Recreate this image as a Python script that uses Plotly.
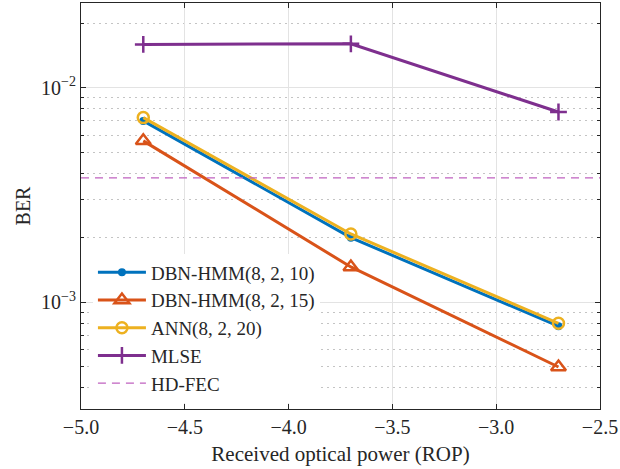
import math
import plotly.graph_objects as go

rop = [-4.7, -3.7, -2.7]
dbn10 = [0.0070, 0.00200, 0.000773]
dbn15 = [0.00565, 0.00146, 0.000499]
ann20 = [0.00725, 0.00208, 0.000798]
mlse = [0.0159, 0.0160, 0.0077]
hd_fec = 0.0038
x_range = [-5.0, -2.5]
y_range = [3.18e-4, 0.0248]
x_ticks = [-5.0, -4.5, -4.0, -3.5, -3.0, -2.5]
x_ticktext = ["\u22125.0", "\u22124.5", "\u22124.0", "\u22123.5", "\u22123.0", "\u22122.5"]
y_ticks = [1e-3, 1e-2]
y_ticktext = ["10<sup>\u22123</sup>", "10<sup>\u22122</sup>"]
y_minor = [m * 10 ** e for e in (-4, -3, -2) for m in range(2, 10)]

font = "Liberation Serif"
fig = go.Figure()
fig.add_trace(go.Scatter(x=rop, y=dbn10, name="DBN-HMM(8, 2, 10)", mode="lines+markers",
                         line=dict(color="#0072BD", width=3),
                         marker=dict(symbol="circle", size=8, color="#0072BD")))
fig.add_trace(go.Scatter(x=rop, y=dbn15, name="DBN-HMM(8, 2, 15)", mode="lines+markers",
                         line=dict(color="#D95319", width=3),
                         marker=dict(symbol="triangle-up-open", size=13, color="#D95319",
                                     line=dict(width=2.5, color="#D95319"))))
fig.add_trace(go.Scatter(x=rop, y=ann20, name="ANN(8, 2, 20)", mode="lines+markers",
                         line=dict(color="#EDB120", width=3),
                         marker=dict(symbol="circle-open", size=11, color="#EDB120",
                                     line=dict(width=2.5, color="#EDB120"))))
fig.add_trace(go.Scatter(x=rop, y=mlse, name="MLSE", mode="lines+markers",
                         line=dict(color="#7E2F8E", width=3),
                         marker=dict(symbol="cross-thin", size=12,
                                     line=dict(width=2.5, color="#7E2F8E"))))
fig.add_trace(go.Scatter(x=x_range, y=[hd_fec, hd_fec], name="HD-FEC", mode="lines",
                         line=dict(color="#C062C0", width=1.2, dash="8px,6px")))

fig.update_layout(
    width=620, height=469,
    margin=dict(l=81, r=17, t=2, b=60),
    paper_bgcolor="white", plot_bgcolor="white",
    font=dict(family=font, size=20, color="#262626"),
    showlegend=True,
    legend=dict(x=0.023, y=0.383, xanchor="left", yanchor="top",
                bgcolor="white", borderwidth=0,
                font=dict(family=font, size=19, color="#262626"),
                itemwidth=48, tracegroupgap=0),
)
fig.update_xaxes(
    range=x_range, tickvals=x_ticks, ticktext=x_ticktext,
    ticklabeloverflow="allow",
    showgrid=True, gridcolor="#e3e3e3", gridwidth=1,
    ticks="inside", ticklen=5, tickcolor="#262626",
    showline=True, linecolor="#262626", linewidth=1, mirror="ticks",
    zeroline=False,
    title=dict(text="Received optical power (ROP)", font=dict(family=font, size=21), standoff=9),
    tickfont=dict(family=font, size=20),
)
fig.update_yaxes(
    type="log", range=[math.log10(y_range[0]), math.log10(y_range[1])],
    tickvals=y_ticks, ticktext=y_ticktext,
    showgrid=True, gridcolor="#e3e3e3", gridwidth=1,
    ticks="inside", ticklen=5, tickcolor="#262626",
    minor=dict(tickvals=y_minor, showgrid=True, gridcolor="#c4c4c4", griddash="1.5px,4.5px",
               ticks="inside", ticklen=3, tickcolor="#262626"),
    showline=True, linecolor="#262626", linewidth=1, mirror="ticks",
    zeroline=False,
    title=dict(text="BER", font=dict(family=font, size=20), standoff=5),
    tickfont=dict(family=font, size=20),
)
fig.write_html("out.html", config={"displayModeBar": False},
               post_script="document.body.style.margin='0px';")
